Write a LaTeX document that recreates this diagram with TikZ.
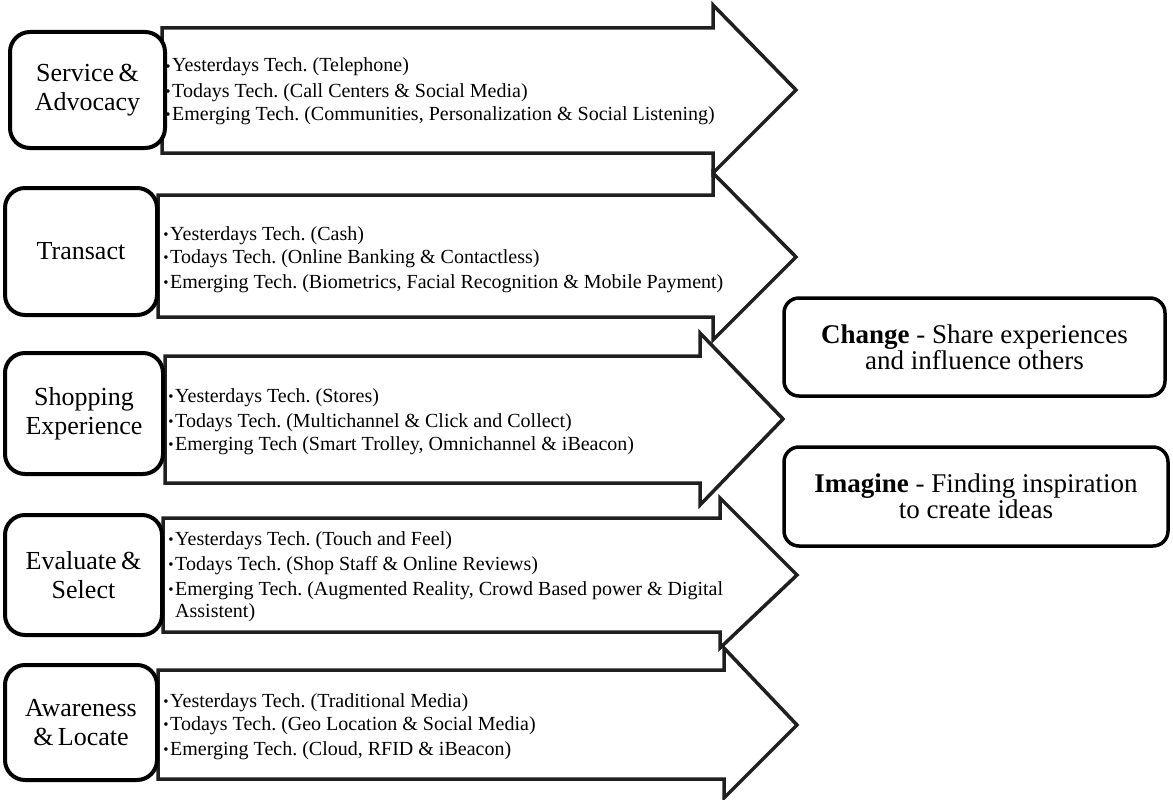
\documentclass[tikz,border=0pt]{standalone}
\usepackage{fontspec}
\setmainfont{Liberation Serif}
\frenchspacing
% small bullet hanging to the left of each technology line
\newcommand\itembullet{\llap{\raisebox{0.5pt}{\fontsize{15}{15}\selectfont\textbullet}\hspace{1.5pt}}}
\begin{document}
\begin{tikzpicture}[x=1pt,y=-1pt,
  arrowshape/.style={draw=black!88, line width=3.5pt, fill=white, line join=miter},
  stagebox/.style={draw=black, line width=4pt, rounded corners=20pt, fill=white,
    align=center, font=\fontsize{26}{29}\selectfont, inner sep=0pt},
  item/.style={anchor=base west, inner sep=0pt, font=\fontsize{20}{24}\selectfont},
  notebox/.style={draw=black, line width=3.5pt, rounded corners=15pt, fill=white,
    align=center, font=\fontsize{27}{26}\selectfont, inner sep=0pt}]
\useasboundingbox (0,0) rectangle (1173,800);

% block arrows, drawn top to bottom
\draw[arrowshape] (162,28) -- (713,28) -- (713,5) -- (796,90) -- (713,173) -- (713,153) -- (162,153) -- cycle;
\draw[arrowshape] (158,195) -- (713,195) -- (713,173) -- (796,257) -- (713,340) -- (713,317) -- (158,317) -- cycle;
\draw[arrowshape] (165,356) -- (700,356) -- (700,333) -- (783,419) -- (700,505) -- (700,483) -- (165,483) -- cycle;
\draw[arrowshape] (163,518) -- (720,518) -- (720,498) -- (797,575) -- (720,648) -- (720,632) -- (163,632) -- cycle;
\draw[arrowshape] (158,670) -- (724,670) -- (724,648) -- (797,725) -- (724,798) -- (724,779) -- (158,779) -- cycle;

% stage boxes on the left
\node[stagebox, minimum width=155pt, minimum height=116pt] (service) at (87.5,90) {Service\,\&\\Advocacy};
\node[stagebox, minimum width=152pt, minimum height=127pt] (transact) at (81,251.5) {Transact};
\node[stagebox, minimum width=158pt, minimum height=121pt] (shopping) at (84,413.5) {Shopping\\Experience};
\node[stagebox, minimum width=157pt, minimum height=120pt] (evaluate) at (83.5,575) {Evaluate\,\&\\Select};
\node[stagebox, minimum width=152pt, minimum height=115pt] (awareness) at (81,722.5) {Awareness\\\&\,Locate};

% technology lines inside the arrows
\node[item] (s1) at (172,72)  {\itembullet Yesterdays Tech. (Telephone)};
\node[item] (s2) at (172,97)  {\itembullet Todays Tech. (Call Centers \& Social Media)};
\node[item] (s3) at (172,120) {\itembullet Emerging Tech. (Communities, Personalization \& Social Listening)};

\node[item] (t1) at (170,240) {\itembullet Yesterdays Tech. (Cash)};
\node[item] (t2) at (170,263) {\itembullet Todays Tech. (Online Banking \& Contactless)};
\node[item] (t3) at (170,288) {\itembullet Emerging Tech. (Biometrics, Facial Recognition \& Mobile Payment)};

\node[item] (h1) at (175,402) {\itembullet Yesterdays Tech. (Stores)};
\node[item] (h2) at (175,427) {\itembullet Todays Tech. (Multichannel \& Click and Collect)};
\node[item] (h3) at (175,450) {\itembullet Emerging Tech (Smart Trolley, Omnichannel \& iBeacon)};

\node[item] (e1) at (175,545) {\itembullet Yesterdays Tech. (Touch and Feel)};
\node[item] (e2) at (175,570) {\itembullet Todays Tech. (Shop Staff \& Online Reviews)};
\node[item] (e3) at (175,595) {\itembullet Emerging Tech. (Augmented Reality, Crowd Based power \& Digital};
\node[item] (e4) at (175,617) {Assistent)};

\node[item] (a1) at (170,707) {\itembullet Yesterdays Tech. (Traditional Media)};
\node[item] (a2) at (170,730) {\itembullet Todays Tech. (Geo Location \& Social Media)};
\node[item] (a3) at (170,755) {\itembullet Emerging Tech. (Cloud, RFID \& iBeacon)};

% notes on the right
\node[notebox, minimum width=381pt, minimum height=98pt] (change) at (974.5,347)
  {\textbf{Change} - Share experiences\\and influence others};
\node[notebox, minimum width=384pt, minimum height=99pt] (imagine) at (976,496.5)
  {\textbf{Imagine} - Finding inspiration\\to create ideas};
\end{tikzpicture}
\end{document}
